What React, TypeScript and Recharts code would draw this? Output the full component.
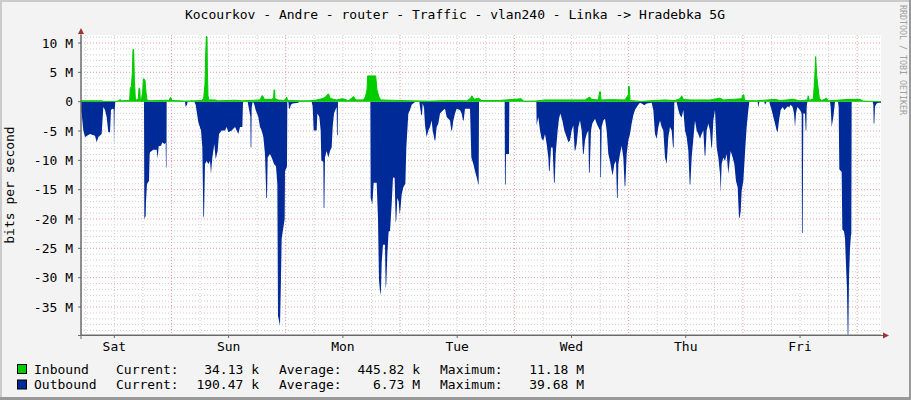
import { Area, CartesianGrid, ComposedChart, XAxis, YAxis } from "recharts";

// hours since the left edge of the graph (Sat ~05:00), value in Mbit/s
const outbound: [number, number][] = [
  [0, -1.5], [0.14, -2.0], [0.49, -4.9], [0.84, -6.0], [1.89, -5.5], [2.94, -5.8], [3.29, -6.9],
  [3.64, -6.0], [4.34, -5.5], [4.69, -0.9], [5.04, -1.4], [5.39, -2.6], [5.74, -5.2], [6.09, -5.2],
  [6.3, -1.4], [6.58, -1.2], [6.86, -1.3], [6.93, -7.5], [7.07, -1.5], [7.21, 0], [13.23, 0],
  [13.3, -20.0], [13.58, -19.5], [13.65, -17.0], [13.86, -14.0], [14.28, -13.5], [14.42, -9.0],
  [14.49, -8.6], [15.19, -8.2], [15.89, -8.2], [16.1, -9.7], [16.31, -7.6], [16.8, -7.5],
  [17.08, -6.9], [17.5, -7.2], [17.78, -7.0], [17.85, -11.2], [17.95, -11.2], [17.99, 0],
  [21.84, 0], [21.98, -0.9], [22.26, -0.5], [22.4, 0], [23.8, 0], [24.08, -0.5], [24.36, -2.0],
  [24.64, -3.5], [25.2, -4.9], [25.48, -7.8], [25.69, -19.8], [25.83, -19.5], [26.04, -10.6],
  [26.39, -10.1], [26.74, -10.6], [27.09, -10.1], [27.3, -12.3], [27.58, -9.5], [28.0, -7.2],
  [28.28, -9.8], [28.7, -8.4], [28.98, -5.5], [29.54, -4.9], [30.24, -4.9], [30.59, -4.3],
  [30.94, -5.2], [31.64, -4.9], [32.34, -4.3], [33.04, -5.5], [33.39, -4.3], [33.88, -4.3],
  [34.02, 0], [35.0, 0], [35.21, -1.0], [35.56, -2.5], [35.63, -7.8], [35.77, -7.8], [35.84, -1.0],
  [36.05, 0], [36.33, -0.3], [36.68, -1.4], [37.24, -2.6], [37.59, -4.3], [37.94, -4.9],
  [38.29, -6.0], [38.64, -8.9], [38.92, -16.4], [39.06, -16.4], [39.2, -9.5], [39.69, -8.9],
  [40.04, -9.5], [40.53, -10.6], [40.95, -11.0], [41.23, -14.0], [41.37, -36.5], [41.79, -38.2],
  [42.0, -30.0], [42.14, -23.3], [42.49, -21.5], [42.77, -20.0], [42.84, -11.8], [43.19, -11.2],
  [43.26, -11.0], [43.33, 0], [43.54, 0], [43.68, -1.2], [43.82, -1.2], [44.1, -0.5],
  [44.45, -0.3], [45.64, -0.2], [45.85, 0], [48.44, 0], [48.65, -0.8], [48.86, -4.9],
  [49.49, -4.9], [49.63, -2.0], [50.05, -2.6], [50.33, -4.9], [50.47, -10.0], [50.89, -10.3],
  [50.96, -18.1], [51.1, -18.1], [51.24, -9.5], [51.59, -8.4], [51.94, -9.5], [52.29, -8.4],
  [52.64, -7.8], [52.85, -4.3], [53.13, -2.0], [53.41, -1.4], [53.69, -0.9], [53.76, -5.7],
  [53.9, -5.7], [53.97, 0], [60.76, 0], [60.83, -16.4], [61.18, -17.5], [61.46, -13.8],
  [62.09, -13.8], [62.37, -20.0], [62.58, -30.4], [62.86, -33.0], [63.0, -32.0], [63.14, -27.5],
  [63.42, -24.4], [63.84, -24.4], [63.98, -31.9], [64.12, -31.0], [64.33, -26.0], [64.61, -22.1],
  [64.89, -22.1], [65.24, -17.5], [65.52, -12.9], [65.87, -13.0], [66.08, -20.7], [66.22, -20.0],
  [66.43, -16.4], [66.71, -17.0], [66.92, -19.2], [67.06, -18.5], [67.34, -15.8], [67.69, -14.6],
  [68.11, -14.0], [68.32, -7.8], [68.74, -2.0], [69.09, -1.4], [69.44, -0.5], [69.93, -0.2],
  [70.21, 0], [71.05, 0], [71.19, -0.9], [71.47, -2.3], [71.61, -2.3], [71.75, -0.3],
  [72.03, -1.0], [72.24, -4.0], [72.59, -6.0], [72.94, -4.9], [73.29, -4.3], [73.64, -3.2],
  [73.85, -4.9], [74.27, -6.6], [74.41, -6.6], [74.69, -4.3], [75.04, -3.7], [75.39, -2.0],
  [76.09, -1.4], [76.44, -1.2], [76.79, -2.6], [77.49, -3.2], [77.77, -4.9], [77.91, -4.9],
  [78.19, -3.2], [78.54, -2.0], [78.89, -1.2], [79.59, -1.4], [79.94, -2.0], [80.22, -3.2],
  [80.36, -3.2], [80.64, -1.2], [81.69, -1.2], [81.97, -9.5], [82.39, -10.6], [82.74, -11.8],
  [83.09, -12.9], [83.44, -14.1], [83.51, -14.1], [83.58, 0], [88.97, 0], [89.04, -14.1],
  [89.18, -14.1], [89.25, -8.9], [89.88, -8.9], [89.95, 0], [95.62, 0], [95.69, -4.0],
  [96.04, -2.6], [96.39, -4.9], [96.74, -6.3], [97.09, -6.6], [97.44, -5.5], [97.79, -7.2],
  [98.14, -9.5], [98.28, -11.8], [98.42, -11.8], [98.7, -7.8], [99.05, -7.8], [99.33, -13.8],
  [99.47, -13.8], [99.68, -8.9], [100.1, -4.9], [100.38, -2.9], [100.66, -2.0], [101.08, -3.2],
  [101.5, -4.9], [101.99, -6.0], [102.34, -6.9], [102.69, -6.6], [103.04, -4.9], [103.39, -4.0],
  [103.67, -8.3], [103.81, -8.3], [104.09, -7.2], [104.44, -4.3], [104.79, -3.2], [105.14, -4.9],
  [105.42, -8.9], [105.56, -8.9], [105.84, -6.6], [106.19, -5.5], [106.54, -4.9], [106.68, -12.1],
  [106.82, -12.1], [107.1, -4.9], [107.38, -3.7], [107.94, -2.9], [108.29, -3.7], [108.64, -4.3],
  [108.99, -4.9], [109.06, -12.9], [109.2, -12.9], [109.34, -4.3], [109.69, -3.2], [110.04, -2.9],
  [110.39, -4.9], [110.74, -8.9], [111.09, -10.1], [111.44, -11.8], [111.65, -12.6], [112.0, -10.6],
  [112.35, -10.1], [112.56, -16.4], [112.7, -16.4], [112.84, -10.6], [113.19, -8.9], [113.54, -7.5],
  [113.89, -9.5], [114.17, -14.4], [114.31, -14.4], [114.59, -8.9], [114.94, -6.6], [115.29, -5.5],
  [115.64, -3.7], [115.99, -2.3], [116.34, -1.4], [116.69, -0.9], [117.04, -0.5], [117.39, -0.2],
  [117.74, -0.3], [118.3, -0.6], [118.79, -0.3], [119.84, -0.2], [120.19, -1.4], [120.54, -5.5],
  [120.89, -6.3], [121.24, -4.3], [121.59, -3.2], [121.94, -4.3], [122.29, -4.9], [122.64, -9.5],
  [122.99, -10.6], [123.34, -6.0], [123.69, -4.3], [124.04, -4.9], [124.32, -7.8], [124.46, -7.8],
  [124.6, -0.1], [125.09, -0.1], [125.44, -1.4], [125.79, -2.3], [126.14, -2.7], [126.49, -1.4],
  [126.84, -4.9], [127.19, -6.0], [127.54, -8.3], [127.82, -14.1], [127.96, -14.1], [128.24, -9.5],
  [128.59, -6.3], [128.94, -3.2], [129.29, -4.9], [129.64, -5.5], [129.99, -6.3], [130.34, -5.5],
  [130.69, -4.9], [130.97, -9.2], [131.11, -9.2], [131.39, -4.9], [131.74, -3.7], [132.09, -4.9],
  [132.37, -7.8], [132.51, -7.8], [132.79, -3.2], [133.14, -1.4], [133.49, -7.8], [133.84, -9.5],
  [134.19, -12.3], [134.33, -15.5], [134.54, -10.6], [134.89, -9.5], [135.24, -10.1], [135.59, -8.9],
  [135.94, -12.3], [136.15, -10.6], [136.43, -8.4], [136.85, -9.5], [137.2, -10.6], [137.55, -13.5],
  [137.9, -14.6], [138.18, -19.8], [138.32, -19.8], [138.53, -18.7], [138.74, -15.2], [139.09, -13.5],
  [139.3, -10.6], [139.51, -7.8], [139.79, -4.3], [140.14, -1.4], [140.35, 0], [142.1, 0],
  [142.24, -1.0], [142.45, 0], [143.5, 0], [143.64, -0.5], [143.99, 0], [144.55, 0], [144.69, -0.5],
  [145.04, -1.4], [145.39, -2.6], [145.74, -3.7], [146.09, -4.9], [146.3, -5.2], [146.58, -3.2],
  [146.93, -1.4], [147.35, -0.9], [147.7, -1.4], [147.98, -1.2], [148.33, -0.8], [148.75, -0.9],
  [149.03, -0.5], [149.45, -0.9], [149.73, -2.0], [149.94, -4.3], [150.15, -2.0], [150.43, -0.9],
  [150.99, -1.4], [151.34, -2.0], [151.41, -22.4], [151.55, -22.4], [151.69, -2.0], [152.04, -2.0],
  [152.18, -4.9], [152.32, -4.9], [152.39, -0.9], [152.53, 0], [157.29, 0], [157.43, -0.9],
  [157.64, -4.3], [157.99, -2.6], [158.34, 0], [158.97, 0], [159.11, -0.9], [159.25, -11.5],
  [159.74, -12.0], [159.88, -21.8], [160.23, -22.1], [160.44, -23.3], [160.65, -27.9],
  [160.86, -32.0], [161.0, -39.68], [161.14, -39.68], [161.28, -30.0], [161.49, -25.0],
  [161.7, -22.7], [161.77, -22.7], [161.84, 0], [166.25, 0], [166.39, -0.5], [166.46, -3.7],
  [166.6, -3.7], [166.74, -0.8], [167.09, -0.3], [167.44, -0.2], [168, -0.2],
];

const inbound: [number, number][] = [
  [0, 0.15], [4.5, 0.15], [4.69, 0.05], [7.21, 0.05], [7.84, 0.1], [8.12, 0.35], [8.26, 0.35],
  [8.54, 0.15], [9.94, 0.2], [10.22, 0.3], [10.36, 2.3], [10.57, 2.6], [10.78, 4.9], [10.92, 8.9],
  [11.06, 8.9], [11.2, 3.7], [11.41, 0.6], [11.69, 0.2], [12.04, 0.6], [12.18, 2.3], [12.32, 2.3],
  [12.46, 0.2], [12.74, 0.6], [12.95, 1.6], [13.09, 3.9], [13.44, 3.7], [13.65, 1.6], [13.86, 0.3],
  [14.28, 0.15], [17.99, 0.25], [18.48, 0.2], [18.76, 0.7], [18.9, 0.7], [19.04, 0.2], [21.84, 0.1],
  [25.34, 0.2], [25.76, 0.6], [26.04, 3.0], [26.18, 7.8], [26.32, 11.18], [26.46, 11.0],
  [26.53, 6.0], [26.67, 1.0], [26.88, 0.3], [28.14, 0.3], [28.84, 0.15], [32.34, 0.25],
  [33.74, 0.15], [37.59, 0.3], [38.01, 1.0], [38.15, 1.0], [38.5, 0.4], [40.04, 0.4], [40.46, 0.6],
  [40.53, 2.0], [40.67, 2.0], [40.74, 0.5], [41.44, 0.3], [42.49, 0.2], [43.05, 0.4], [43.19, 0.8],
  [43.4, 0.2], [45.99, 0.15], [48.09, 0.15], [49.49, 0.3], [50.54, 0.5], [51.24, 0.7],
  [51.87, 1.3], [52.01, 1.3], [52.29, 0.6], [52.99, 0.4], [53.69, 0.3], [54.74, 0.5], [55.44, 0.4],
  [56.14, 0.15], [56.84, 0.6], [57.19, 0.9], [57.75, 0.3], [59.29, 0.3], [59.71, 0.8], [60.06, 2.0],
  [60.2, 4.4], [61.88, 4.4], [62.16, 2.0], [62.58, 0.8], [62.93, 0.3], [64.89, 0.25], [69.09, 0.15],
  [73.29, 0.1], [77.49, 0.2], [80.99, 0.15], [81.83, 0.6], [82.11, 1.0], [82.53, 0.4], [83.51, 0.6],
  [84.14, 0.2], [87.64, 0.2], [92.47, 0.5], [92.89, 0.1], [95.34, 0.1], [97.44, 0.3],
  [101.64, 0.3], [105.84, 0.3], [106.82, 0.8], [107.24, 0.4], [108.64, 0.3], [108.92, 1.7],
  [109.06, 1.7], [109.2, 0.3], [111.44, 0.35], [114.24, 0.3], [114.94, 1.2], [115.01, 2.6],
  [115.15, 2.6], [115.29, 0.2], [117.74, 0.05], [120.19, 0.2], [122.64, 0.3], [124.74, 0.2],
  [125.79, 0.5], [126.14, 1.0], [126.49, 0.4], [127.89, 0.3], [132.09, 0.3], [134.19, 0.6],
  [134.89, 0.3], [138.74, 0.5], [139.02, 1.2], [139.16, 1.2], [139.37, 0.2], [141.89, 0.15],
  [145.74, 0.4], [146.79, 0.2], [149.59, 0.4], [150.99, 0.15], [152.53, 0.3], [152.74, 1.0],
  [152.95, 0.2], [153.79, 0.5], [154.07, 3.7], [154.28, 7.7], [154.49, 4.5], [154.77, 2.5],
  [155.05, 0.6], [155.54, 0.2], [156.59, 0.6], [156.87, 0.15], [161.49, 0.4], [163.59, 0.4],
  [164.29, 0.1], [168, 0.03],
];

const dayLabels = ["Sat", "Sun", "Mon", "Tue", "Wed", "Thu", "Fri"];
const noonHours = [7, 31, 55, 79, 103, 127, 151];
const midnightHours = [19, 43, 67, 91, 115, 139, 163];
const yTicks = [10, 5, 0, -5, -10, -15, -20, -25, -30, -35];

const legendRows = [
  { name: "Inbound", color: "#00CC00", current: "34.13 k", average: "445.82 k", maximum: "11.18 M" },
  { name: "Outbound", color: "#002A97", current: "190.47 k", average: "6.73 M", maximum: "39.68 M" },
];

const MONO = "DejaVu Sans Mono, monospace";
const Y_DOMAIN: [number, number] = [-39.77, 11.37];

// grid positions
const sixHourLines = Array.from({ length: 28 }, (_, i) => 1 + i * 6).filter(
  (h) => !midnightHours.includes(h)
);
const minorY: number[] = [];
for (let v = -39; v <= 11; v++) if (v % 5 !== 0) minorY.push(v);
const majorY = [10, 5, 0, -5, -10, -15, -20, -25, -30, -35];

const outboundData = outbound.map(([h, v]) => ({ h, v }));
const inboundData = inbound.map(([h, v]) => ({ h, v }));

export default function App() {
  return (
    <div
      style={{
        position: "fixed",
        left: 0,
        top: 0,
        width: 911,
        height: 400,
        background: "#F3F3F3",
        overflow: "hidden",
      }}
    >
      <ComposedChart width={911} height={400} margin={{ top: 35, right: 30, bottom: 35, left: 0 }}>
        <CartesianGrid
          fill="#FFFFFF"
          horizontalValues={minorY}
          verticalValues={sixHourLines}
          stroke="#CFCFCF"
          strokeDasharray="1 2"
        />
        <CartesianGrid
          horizontalValues={majorY}
          verticalValues={midnightHours}
          stroke="#F09A9A"
          strokeDasharray="1 2"
        />
        <XAxis
          type="number"
          dataKey="h"
          domain={[0, 168]}
          allowDataOverflow
          ticks={noonHours}
          tickFormatter={(h: number) => dayLabels[noonHours.indexOf(h)] ?? ""}
          height={30}
          tick={{ fontFamily: MONO, fontSize: 13, fill: "#000" }}
          tickSize={3}
          tickMargin={4}
          stroke="#6A6A6A"
        />
        <YAxis
          type="number"
          domain={Y_DOMAIN}
          allowDataOverflow
          ticks={yTicks}
          interval={0}
          tickFormatter={(v: number) => (v === 0 ? "0" : `${v} M`)}
          width={81}
          tick={{ fontFamily: MONO, fontSize: 13, fill: "#000" }}
          tickSize={3}
          tickMargin={5}
          stroke="#6A6A6A"
        />
        <Area
          data={outboundData}
          dataKey="v"
          type="linear"
          stroke="none"
          fill="#002A97"
          fillOpacity={1}
          isAnimationActive={false}
          dot={false}
          activeDot={false}
        />
        <Area
          data={inboundData}
          dataKey="v"
          type="linear"
          stroke="#00CC00"
          strokeWidth={1}
          fill="#00CC00"
          fillOpacity={1}
          isAnimationActive={false}
          dot={false}
          activeDot={false}
        />
      </ComposedChart>

      <svg
        width={911}
        height={400}
        style={{ position: "absolute", left: 0, top: 0, pointerEvents: "none" }}
      >
        {/* frame */}
        <rect x={0} y={0} width={911} height={2} fill="#CBCBCB" />
        <rect x={0} y={0} width={2} height={400} fill="#CBCBCB" />
        <rect x={0} y={397} width={911} height={3} fill="#999999" />
        <rect x={909} y={0} width={2} height={400} fill="#999999" />

        {/* axis extensions and arrows */}
        <line x1={81} y1={34} x2={81} y2={339} stroke="#6A6A6A" />
        <line x1={78} y1={335.5} x2={884} y2={335.5} stroke="#6A6A6A" />
        <polygon points="78,34 81,28 84,34" fill="#A33333" />
        <polygon points="883,332.5 889,335.5 883,338.5" fill="#A33333" />

        <text
          x={455}
          y={19}
          textAnchor="middle"
          fontFamily={MONO}
          fontSize={13}
          fill="#000"
        >
          Kocourkov - Andre - router - Traffic - vlan240 - Linka -&gt; Hradebka 5G
        </text>

        <text
          x={13.5}
          y={185}
          transform="rotate(-90 13.5 185)"
          textAnchor="middle"
          fontFamily={MONO}
          fontSize={13}
          fill="#000"
        >
          bits per second
        </text>

        <text
          x={899.5}
          y={5}
          transform="rotate(90 899.5 5)"
          fontFamily={MONO}
          fontSize={8.3}
          fill="#A0A0A0"
        >
          RRDTOOL / TOBI OETIKER
        </text>

        {legendRows.map((r, i) => {
          const base = 373.5 + i * 15.5;
          return (
            <g key={r.name} fontFamily={MONO} fontSize={13} fill="#000">
              <rect x={17.5} y={base - 9} width={9} height={9} fill={r.color} stroke="#000" />
              <text x={34} y={base}>{r.name}</text>
              <text x={116} y={base}>Current:</text>
              <text x={259} y={base} textAnchor="end">{r.current}</text>
              <text x={279} y={base}>Average:</text>
              <text x={420} y={base} textAnchor="end">{r.average}</text>
              <text x={440} y={base}>Maximum:</text>
              <text x={584} y={base} textAnchor="end">{r.maximum}</text>
            </g>
          );
        })}
      </svg>
    </div>
  );
}
